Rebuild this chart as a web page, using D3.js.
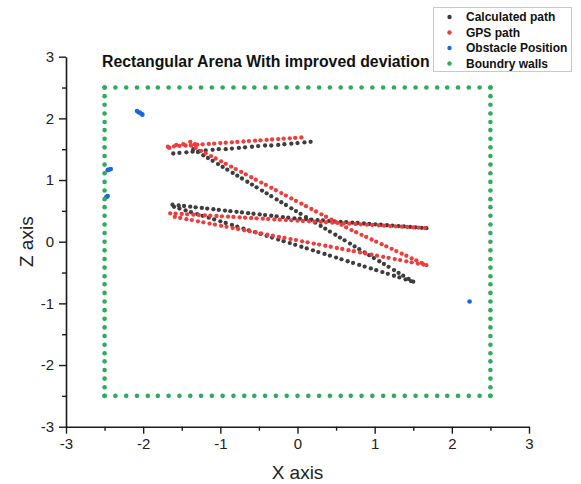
<!DOCTYPE html>
<html>
<head>
<meta charset="utf-8">
<script src="https://cdn.jsdelivr.net/npm/d3@7/dist/d3.min.js"></script>
<style>
  html, body { margin: 0; padding: 0; background: #fff; }
  svg { display: block; font-family: "Liberation Sans", Arial, sans-serif; }
</style>
</head>
<body>
<svg id="chart" width="581" height="484"></svg>
<script>
// ---- data -------------------------------------------------------------
const titleText = "Rectangular Arena With improved deviation";
const xLabel = "X axis";
const zLabel = "Z axis";
const majorTicks = [-3, -2, -1, 0, 1, 2, 3];
const minorTicks = [-2.5, -1.5, -0.5, 0.5, 1.5, 2.5];
const seriesNames = ["Calculated path", "GPS path", "Obstacle Position", "Boundry walls"];

// Calculated path: [x, z]
const calculatedPath = [
  // heading west along the top
  [0.17,1.62],[0.09,1.61],[0.00,1.60],[-0.08,1.59],[-0.17,1.58],[-0.25,1.57],[-0.34,1.56],[-0.42,1.56],
  [-0.51,1.55],[-0.59,1.54],[-0.68,1.53],[-0.76,1.52],[-0.85,1.51],[-0.93,1.50],[-1.02,1.50],[-1.10,1.49],
  [-1.19,1.48],[-1.27,1.47],[-1.36,1.46],[-1.44,1.45],[-1.53,1.44],[-1.61,1.43],
  // diagonal run to the south-east
  [-1.35,1.50],[-1.29,1.455],[-1.22,1.402],[-1.16,1.357],[-1.10,1.311],[-1.03,1.258],[-0.97,1.213],[-0.91,1.168],
  [-0.84,1.115],[-0.78,1.070],[-0.72,1.025],[-0.65,0.972],[-0.59,0.927],[-0.53,0.881],[-0.46,0.829],[-0.40,0.784],
  [-0.34,0.738],[-0.27,0.686],[-0.21,0.640],[-0.15,0.595],[-0.08,0.542],[-0.02,0.497],[0.04,0.452],[0.11,0.399],
  [0.17,0.354],[0.23,0.309],[0.30,0.256],[0.36,0.211],[0.42,0.165],[0.49,0.113],[0.55,0.067],[0.61,0.022],
  [0.68,-0.031],[0.74,-0.076],[0.80,-0.121],[0.87,-0.174],[0.93,-0.219],[0.99,-0.265],[1.06,-0.317],[1.12,-0.362],
  [1.18,-0.408],[1.25,-0.460],[1.31,-0.506],[1.37,-0.551],[1.44,-0.604],[1.50,-0.649],
  // back towards the west wall
  [1.47,-0.638],[1.40,-0.611],[1.32,-0.579],[1.25,-0.552],[1.17,-0.521],[1.10,-0.493],[1.02,-0.462],[0.95,-0.434],
  [0.87,-0.403],[0.80,-0.376],[0.72,-0.344],[0.65,-0.317],[0.57,-0.285],[0.50,-0.258],[0.42,-0.227],[0.35,-0.199],
  [0.27,-0.168],[0.20,-0.140],[0.12,-0.109],[0.05,-0.082],[-0.03,-0.050],[-0.10,-0.023],[-0.18,0.009],[-0.25,0.036],
  [-0.33,0.067],[-0.40,0.095],[-0.48,0.126],[-0.55,0.154],[-0.63,0.185],[-0.70,0.212],[-0.78,0.244],[-0.85,0.271],
  [-0.93,0.303],[-1.00,0.330],[-1.08,0.361],[-1.15,0.389],[-1.23,0.420],[-1.30,0.448],[-1.38,0.479],[-1.45,0.507],
  [-1.53,0.538],[-1.60,0.566],
  // final run to the east
  [-1.62,0.600],[-1.54,0.589],[-1.47,0.579],[-1.39,0.568],[-1.32,0.558],[-1.24,0.547],[-1.17,0.537],[-1.09,0.526],
  [-1.02,0.516],[-0.94,0.505],[-0.87,0.495],[-0.79,0.484],[-0.72,0.474],[-0.64,0.463],[-0.57,0.453],[-0.49,0.442],
  [-0.42,0.432],[-0.34,0.421],[-0.27,0.411],[-0.19,0.400],[-0.12,0.390],[-0.04,0.379],[0.03,0.372],[0.11,0.365],
  [0.18,0.359],[0.26,0.351],[0.33,0.345],[0.41,0.337],[0.48,0.331],[0.56,0.323],[0.63,0.317],[0.71,0.309],
  [0.78,0.303],[0.86,0.295],[0.93,0.289],[1.01,0.281],[1.08,0.275],[1.16,0.267],[1.23,0.261],[1.31,0.253],
  [1.38,0.247],[1.46,0.239],[1.53,0.233],[1.61,0.225],[1.67,0.220]
];

// GPS path: [x, z]
const gpsPath = [
  [0.05,1.690],[-0.03,1.683],[-0.10,1.677],[-0.18,1.670],[-0.25,1.664],[-0.33,1.657],[-0.40,1.651],[-0.48,1.644],
  [-0.55,1.638],[-0.63,1.631],[-0.70,1.625],[-0.78,1.618],[-0.85,1.612],[-0.93,1.605],[-1.00,1.599],[-1.08,1.592],
  [-1.15,1.586],[-1.23,1.579],[-1.30,1.573],[-1.38,1.566],[-1.45,1.560],[-1.53,1.553],[-1.60,1.547],[-1.68,1.540],
  [-1.39,1.62],[-1.48,1.58],[-1.57,1.57],[-1.66,1.52],[-1.33,1.58],
  [-1.38,1.560],[-1.32,1.520],[-1.25,1.474],[-1.19,1.435],[-1.12,1.388],[-1.06,1.349],[-0.99,1.303],[-0.93,1.263],
  [-0.86,1.217],[-0.80,1.177],[-0.73,1.131],[-0.67,1.091],[-0.60,1.045],[-0.54,1.006],[-0.47,0.959],[-0.41,0.920],
  [-0.34,0.874],[-0.28,0.834],[-0.21,0.788],[-0.15,0.748],[-0.08,0.702],[-0.02,0.662],[0.05,0.616],[0.11,0.576],
  [0.18,0.530],[0.24,0.490],[0.31,0.444],[0.37,0.405],[0.44,0.358],[0.50,0.319],[0.57,0.273],[0.63,0.233],
  [0.70,0.188],[0.76,0.153],[0.83,0.112],[0.89,0.077],[0.96,0.036],[1.02,0.001],[1.09,-0.040],[1.15,-0.075],
  [1.22,-0.116],[1.28,-0.152],[1.35,-0.193],[1.41,-0.228],[1.48,-0.269],[1.54,-0.304],[1.61,-0.345],[1.67,-0.380],
  [1.63,-0.370],[1.56,-0.354],[1.48,-0.334],[1.41,-0.318],[1.33,-0.298],[1.26,-0.282],[1.18,-0.262],[1.11,-0.246],
  [1.03,-0.226],[0.96,-0.210],[0.88,-0.190],[0.81,-0.174],[0.73,-0.154],[0.66,-0.138],[0.58,-0.118],[0.51,-0.102],
  [0.43,-0.082],[0.36,-0.066],[0.28,-0.046],[0.21,-0.030],[0.13,-0.010],[0.06,0.006],[-0.02,0.026],[-0.09,0.042],
  [-0.17,0.062],[-0.24,0.078],[-0.32,0.098],[-0.39,0.114],[-0.47,0.134],[-0.54,0.150],[-0.62,0.170],[-0.69,0.186],
  [-0.77,0.206],[-0.84,0.222],[-0.92,0.242],[-0.99,0.258],[-1.07,0.278],[-1.14,0.294],[-1.22,0.314],[-1.29,0.330],
  [-1.37,0.350],[-1.44,0.366],[-1.52,0.386],[-1.59,0.402],
  [-1.65,0.460],[-1.58,0.455],[-1.50,0.449],[-1.43,0.444],[-1.35,0.438],[-1.28,0.433],[-1.20,0.427],[-1.13,0.422],
  [-1.05,0.417],[-0.98,0.412],[-0.90,0.406],[-0.83,0.401],[-0.75,0.395],[-0.68,0.390],[-0.60,0.384],[-0.53,0.379],
  [-0.45,0.373],[-0.38,0.368],[-0.30,0.362],[-0.23,0.357],[-0.15,0.351],[-0.08,0.346],[0.00,0.341],[0.07,0.336],
  [0.15,0.330],[0.22,0.325],[0.30,0.320],[0.37,0.315],[0.45,0.309],[0.52,0.304],[0.60,0.298],[0.67,0.293],
  [0.75,0.287],[0.82,0.282],[0.90,0.276],[0.97,0.271],[1.05,0.265],[1.12,0.260],[1.20,0.254],[1.27,0.249],
  [1.35,0.243],[1.42,0.238],[1.50,0.232],[1.57,0.227],[1.65,0.221]
];

// Obstacle detections: [x, z]
const obstaclePoints = [
  [-2.08,2.12],[-2.06,2.10],[-2.04,2.09],[-2.02,2.07],[-2.01,2.06],
  [-2.46,1.16],[-2.44,1.17],[-2.42,1.18],
  [-2.48,0.72],[-2.47,0.73],[-2.46,0.74],
  [2.23,-0.97]
];

// Wall marker positions along each side of the arena
const wallStations = [
  -2.50,-2.36,-2.22,-2.08,-1.94,-1.81,-1.67,-1.53,-1.39,-1.25,-1.11,-0.97,-0.83,-0.69,-0.56,-0.42,-0.28,-0.14,
  0.00,0.14,0.28,0.42,0.56,0.69,0.83,0.97,1.11,1.25,1.39,1.53,1.67,1.81,1.94,2.08,2.22,2.36,2.50
];
const wallEdge = 2.5;

// ---- layout -------------------------------------------------------------
const colors = ["#3d3d3d", "#f23b3b", "#1a68e0", "#2fab5e"];
const svg = d3.select("#chart");

const x = d3.scaleLinear().domain([-3, 3]).range([66, 529]);
const z = d3.scaleLinear().domain([-3, 3]).range([426.7, 56.7]);

// boundary points from the wall stations
const wallPoints = [];
wallStations.forEach(s => {
  wallPoints.push([s, wallEdge]);
  wallPoints.push([s, -wallEdge]);
  wallPoints.push([-wallEdge, s]);
  wallPoints.push([wallEdge, s]);
});

// ---- axes -------------------------------------------------------------
const axisColor = "#1a1a1a";
function styleAxis(g) {
  g.select(".domain").attr("stroke", axisColor).attr("stroke-width", 1.6);
  g.selectAll(".tick line").attr("stroke", axisColor).attr("stroke-width", 1.4);
  g.selectAll(".tick text").attr("fill", "#222").style("font-size", "15px")
    .style("font-family", "'Liberation Sans', Arial, sans-serif");
}

const xAxis = svg.append("g").attr("transform", `translate(0,${z(-3)})`)
  .call(d3.axisBottom(x).tickValues(majorTicks).tickSize(7).tickSizeOuter(0).tickPadding(5).tickFormat(d3.format("d")));
styleAxis(xAxis);
const xMinor = svg.append("g").attr("transform", `translate(0,${z(-3)})`)
  .call(d3.axisBottom(x).tickValues(minorTicks).tickSize(4).tickFormat(""));
styleAxis(xMinor);
xMinor.select(".domain").remove();

const zAxis = svg.append("g").attr("transform", `translate(${x(-3)},0)`)
  .call(d3.axisLeft(z).tickValues(majorTicks).tickSize(7).tickSizeOuter(0).tickPadding(5).tickFormat(d3.format("d")));
styleAxis(zAxis);
const zMinor = svg.append("g").attr("transform", `translate(${x(-3)},0)`)
  .call(d3.axisLeft(z).tickValues(minorTicks).tickSize(4).tickFormat(""));
styleAxis(zMinor);
zMinor.select(".domain").remove();

// minus signs drawn as hyphens
svg.selectAll(".tick text").text(function () { return this.textContent.replace("\u2212", "-"); });

// axis titles
svg.append("text").attr("x", (x(-3) + x(3)) / 2).attr("y", 479).attr("text-anchor", "middle")
  .style("font-size", "19px").attr("fill", "#222").text(xLabel);
svg.append("text").attr("transform", `translate(33,${z(0)}) rotate(-90)`).attr("text-anchor", "middle")
  .style("font-size", "19px").attr("fill", "#222").text(zLabel);

// chart title
svg.append("text").attr("x", 102).attr("y", 66.5)
  .style("font-size", "15.8px").style("font-weight", "bold").attr("fill", "#111").text(titleText);

// ---- points -------------------------------------------------------------
const layers = [calculatedPath, gpsPath, obstaclePoints, wallPoints];
const radii = [2.15, 2.15, 2.3, 2.3];
layers.forEach((pts, i) => {
  svg.append("g").selectAll("circle").data(pts).join("circle")
    .attr("cx", d => x(d[0])).attr("cy", d => z(d[1]))
    .attr("r", radii[i]).attr("fill", colors[i]);
});

// ---- legend -------------------------------------------------------------
const legend = svg.append("g");
legend.append("rect").attr("x", 433.5).attr("y", 7.5).attr("width", 138).attr("height", 64)
  .attr("fill", "#fff").attr("stroke", "#c8c8c8").attr("stroke-width", 1);
const rowY = [17, 32.5, 48, 63.5];
seriesNames.forEach((name, i) => {
  legend.append("circle").attr("cx", 449.5).attr("cy", rowY[i]).attr("r", 2.2).attr("fill", colors[i]);
  legend.append("text").attr("x", 466).attr("y", rowY[i] + 4.2).style("font-size", "12px")
    .style("font-weight", "bold").attr("fill", "#111").text(name);
});
</script>
</body>
</html>
